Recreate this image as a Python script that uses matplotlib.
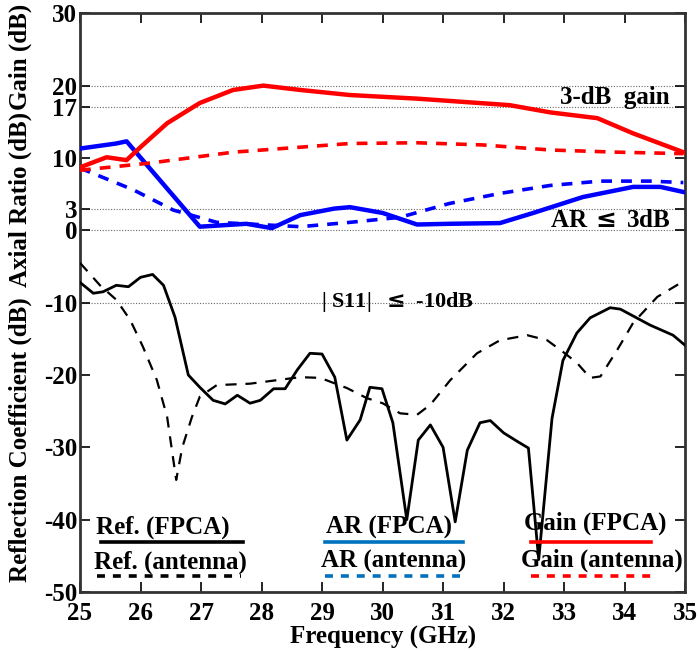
import matplotlib as mpl
mpl.use('Agg')
from matplotlib import pyplot as plt

# Gain (dBi)
gain_fpca_f = [25.0, 25.44, 25.77, 26.0, 26.44, 26.98, 27.53, 28.03, 28.64, 29.46,
               30.57, 32.1, 32.77, 33.55, 34.14, 34.97]
gain_fpca = [8.7, 10.1, 9.7, 11.5, 14.8, 17.6, 19.4, 20.0, 19.4, 18.7,
             18.2, 17.3, 16.3, 15.5, 13.4, 10.8]
gain_ant_f = [25.0, 26.16, 27.53, 29.46, 30.57, 31.66, 32.77, 33.88, 34.97]
gain_ant = [8.3, 9.3, 10.8, 12.0, 12.1, 11.8, 11.1, 10.8, 10.6]

# Axial ratio (dB)
ar_fpca_f = [25.0, 25.6, 25.77, 26.98, 27.75, 28.17, 28.64, 29.2, 29.46, 30.0,
             30.57, 31.1, 31.94, 32.49, 33.31, 34.14, 34.59, 34.97]
ar_fpca = [11.3, 12.0, 12.3, 0.5, 0.9, 0.3, 2.1, 3.0, 3.2, 2.4,
           0.8, 0.9, 1.0, 2.4, 4.6, 6.0, 6.0, 5.3]
ar_ant_f = [25.0, 25.88, 26.54, 27.26, 28.64, 29.46, 30.29, 31.1, 31.94, 32.77,
            33.6, 34.42, 34.97]
ar_ant = [8.6, 5.6, 2.8, 1.1, 0.5, 1.1, 1.8, 3.7, 5.1, 6.2, 6.8, 6.8, 6.6]

# Reflection coefficient (dB)
s11_fpca_f = [25.0, 25.22, 25.38, 25.6, 25.8, 26.0, 26.2, 26.38, 26.57, 26.79,
              26.98, 27.2, 27.4, 27.6, 27.81, 27.98, 28.2, 28.39, 28.59, 28.8,
              29.0, 29.21, 29.41, 29.63, 29.79, 29.99, 30.17, 30.4, 30.59, 30.79,
              31.0, 31.2, 31.4, 31.61, 31.78, 32.0, 32.23, 32.41, 32.58, 32.8,
              32.98, 33.21, 33.43, 33.76, 33.93, 34.42, 34.8, 35.0]
s11_fpca = [-7.2, -8.7, -8.5, -7.6, -7.8, -6.5, -6.1, -7.6, -12.0, -20.0,
            -21.7, -23.5, -24.0, -22.8, -23.9, -23.5, -21.9, -21.9, -19.3, -17.0,
            -17.1, -20.3, -29.0, -26.2, -21.7, -21.9, -26.6, -40.0, -29.0, -26.9,
            -30.0, -40.3, -30.4, -26.6, -26.3, -28.0, -29.2, -30.1, -45.5, -26.0,
            -18.0, -14.2, -12.1, -10.7, -10.9, -13.1, -14.5, -15.9]
s11_ant_f = [25.0, 25.33, 25.6, 25.83, 26.04, 26.27, 26.44, 26.59, 26.69, 26.85,
             26.98, 27.26, 27.81, 28.36, 28.64, 28.97, 29.41, 29.74, 30.0, 30.29,
             30.57, 30.79, 31.12, 31.56, 31.94, 32.39, 32.72, 32.98, 33.21, 33.43,
             33.6, 33.88, 34.14, 34.54, 34.92]
s11_ant = [-4.5, -7.6, -9.6, -12.4, -16.1, -20.7, -25.8, -34.5, -30.0, -25.8,
           -23.0, -21.4, -21.2, -20.6, -20.3, -20.4, -21.8, -23.2, -23.9, -25.3,
           -25.5, -24.1, -20.7, -17.0, -15.2, -14.5, -15.2, -16.8, -18.3, -20.4,
           -20.2, -16.5, -12.8, -9.2, -7.3]

yticks = [-50, -40, -30, -20, -10, 0, 3, 10, 17, 20, 30]
xticks = list(range(25, 36))
ref_levels = [20, 17, 3, 0, -10]

RED = '#ff0000'
BLUE = '#0000ff'
LEG_BLUE = '#0072bd'
FS = 18

mpl.rcParams.update({'font.family': 'Liberation Serif', 'font.weight': 'bold',
                     'axes.unicode_minus': False})

fig = plt.figure(figsize=(6.98, 6.51), dpi=100)
ax = fig.add_axes([0.1146, 0.0906, 0.867, 0.889])

for lev in ref_levels:
    ax.axhline(lev, color='#666666', lw=0.8, ls=(0, (1, 1.5)), zorder=1)

ax.plot(s11_fpca_f, s11_fpca, color='k', lw=2.0, zorder=3)
ax.plot(s11_ant_f, s11_ant, color='k', lw=1.6, ls=(0, (5, 4)), zorder=3)
ax.plot(ar_fpca_f, ar_fpca, color=BLUE, lw=3.2, zorder=4)
ax.plot(ar_ant_f, ar_ant, color=BLUE, lw=2.6, ls=(0, (3, 2.5)), zorder=4)
ax.plot(gain_fpca_f, gain_fpca, color=RED, lw=3.2, zorder=4)
ax.plot(gain_ant_f, gain_ant, color=RED, lw=2.6, ls=(0, (3, 2.5)), zorder=4)

ax.set_xlim(25, 35)
ax.set_ylim(-50, 30)
ax.set_xticks(xticks)
ax.set_yticks(yticks)
ax.tick_params(direction='in', length=7, width=1.2, top=True, right=True,
               labelsize=FS)
ax.tick_params(axis='x', pad=7)
ax.tick_params(axis='y', pad=2)
for lab in ax.get_xticklabels() + ax.get_yticklabels():
    lab.set_fontweight('bold')
for sp in ax.spines.values():
    sp.set_linewidth(2)
    sp.set_color('#333333')

ax.set_xlabel('Frequency (GHz)', fontsize=FS, fontweight='bold', labelpad=1)

# stacked y labels
fig.text(0.029, 0.912, 'Gain (dB)', rotation=90, ha='center', va='center',
         fontsize=FS, fontweight='bold')
fig.text(0.029, 0.693, 'Axial Ratio (dB)', rotation=90, ha='center', va='center',
         fontsize=FS, fontweight='bold')
fig.text(0.029, 0.324, 'Reflection Coefficient (dB)', rotation=90, ha='center',
         va='center', fontsize=FS, fontweight='bold')

# annotations
ax.text(0.884, 0.855, '3-dB  gain', transform=ax.transAxes, ha='center',
        va='center', fontsize=FS, fontweight='bold')
ax.text(0.877, 0.642, 'AR$\\,\\leq\\,$3dB', transform=ax.transAxes, ha='center',
        va='center', fontsize=FS, fontweight='bold')
ax.text(0.524, 0.501, '| S11|  $\\leq$ -10dB', transform=ax.transAxes,
        ha='center', va='center', fontsize=16, fontweight='bold')

# hand-made legend: label, text x, text y, line x0, line x1, line y, colour, dashed
legend_items = [
    ('Ref. (FPCA)', 0.137, 0.112, 0.035, 0.269, 0.086, 'k', False),
    ('Ref. (antenna)', 0.149, 0.052, 0.028, 0.266, 0.028, 'k', True),
    ('AR (FPCA)', 0.510, 0.112, 0.405, 0.633, 0.086, LEG_BLUE, False),
    ('AR (antenna)', 0.519, 0.052, 0.405, 0.628, 0.028, LEG_BLUE, True),
    ('Gain (FPCA)', 0.852, 0.119, 0.745, 0.944, 0.086, RED, False),
    ('Gain (antenna)', 0.862, 0.054, 0.745, 0.949, 0.028, RED, True),
]
for label, tx, ty, x0, x1, ly, col, dashed in legend_items:
    ax.text(tx, ty, label, transform=ax.transAxes, ha='center', va='center',
            fontsize=FS, fontweight='bold', zorder=5)
    ax.plot([x0, x1], [ly, ly], transform=ax.transAxes, color=col, lw=2.6,
            ls=(0, (2.2, 2.2)) if dashed else '-', zorder=5)

fig.savefig('out.png', dpi=100)
